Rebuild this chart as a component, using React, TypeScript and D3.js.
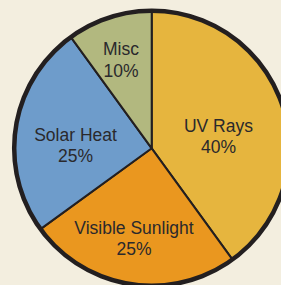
import React, { useEffect, useRef } from "react";
import * as d3 from "d3";

// Slice data, clockwise from 12 o'clock
const categories = ["UV Rays", "Visible Sunlight", "Solar Heat", "Misc"];
const shares = [40, 25, 25, 10];
const colors = ["#E6B53E", "#EA971F", "#6E9CCB", "#B2B87F"];

const App = () => {
  const ref = useRef<SVGSVGElement | null>(null);

  useEffect(() => {
    const width = 281;
    const height = 285;
    const cx = 151.7;
    const cy = 148.3;
    const radius = 137.5;

    const svg = d3.select(ref.current);
    svg.selectAll("*").remove();

    svg.append("rect").attr("width", width).attr("height", height).attr("fill", "#F3EEDF");

    const g = svg.append("g").attr("transform", `translate(${cx},${cy})`);

    const data = categories.map((name, i) => ({ name, value: shares[i], color: colors[i] }));

    const pie = d3
      .pie<{ name: string; value: number; color: string }>()
      .value((d) => d.value)
      .sort(null);

    const arcs = pie(data);
    const arc = d3.arc<any>().innerRadius(0).outerRadius(radius);
    const labelArc = d3.arc<any>().innerRadius(0).outerRadius(radius * 1.2);

    g.selectAll("path.slice")
      .data(arcs)
      .enter()
      .append("path")
      .attr("class", "slice")
      .attr("d", arc)
      .attr("fill", (d) => d.data.color)
      .attr("stroke", "#231F20")
      .attr("stroke-width", 2)
      .attr("stroke-linejoin", "round");

    // outer rim
    g.append("circle")
      .attr("r", radius)
      .attr("fill", "none")
      .attr("stroke", "#231F20")
      .attr("stroke-width", 4.5);

    // small nudges so labels sit where the original has them
    const nudge: Record<string, [number, number]> = {
      "UV Rays": [-11.7, 8.7],
      "Visible Sunlight": [-4.8, 4.2],
      "Solar Heat": [5.3, 5.6],
      Misc: [-5.2, -14.8],
    };

    const labels = g
      .selectAll("text.label")
      .data(arcs)
      .enter()
      .append("text")
      .attr("class", "label")
      .attr("text-anchor", "middle")
      .attr("font-family", "Liberation Sans, Arial, sans-serif")
      .attr("font-size", 17.5)
      .attr("fill", "#2A292C")
      .attr("transform", (d) => {
        const [x, y] = labelArc.centroid(d);
        const [nx, ny] = nudge[d.data.name];
        return `translate(${x + nx},${y + ny})`;
      });

    labels.append("tspan").attr("x", 0).attr("y", 0).text((d) => d.data.name);
    labels.append("tspan").attr("x", 0).attr("y", 21.5).text((d) => `${d.data.value}%`);
  }, []);

  return (
    <svg
      ref={ref}
      width={281}
      height={285}
      style={{ position: "fixed", left: 0, top: 0, display: "block" }}
    />
  );
};

export default App;
